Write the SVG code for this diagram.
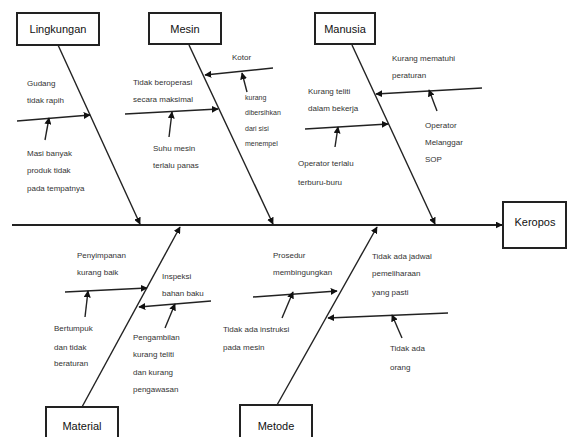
<svg xmlns="http://www.w3.org/2000/svg" width="569" height="437" viewBox="0 0 569 437">
<style>
.box rect{fill:#fff;stroke:#222;stroke-width:2}
.box text{font-family:"Liberation Sans",Arial,sans-serif;font-size:11px;fill:#111;text-anchor:middle}
.lbl{font-family:"Liberation Sans",Arial,sans-serif;font-size:8px;fill:#333}
.sm{font-size:7px}
#connectors line{stroke:#222;stroke-width:1.4;fill:none}
#connectors .spine{stroke-width:1.8}
</style>
<defs>
<marker id="ah" viewBox="0 0 10 10" refX="9" refY="5" markerWidth="7" markerHeight="7" markerUnits="userSpaceOnUse" orient="auto">
<path d="M0,0 L10,5 L0,10 z" fill="#111"/>
</marker>
</defs>
<rect width="569" height="437" fill="#fff"/>
<g id="connectors">
<line class="spine" x1="12" y1="225" x2="502" y2="225" marker-end="url(#ah)"/>
<line x1="58" y1="45" x2="140" y2="224" marker-end="url(#ah)"/>
<line x1="189" y1="45" x2="273" y2="224" marker-end="url(#ah)"/>
<line x1="352" y1="45" x2="435" y2="224" marker-end="url(#ah)"/>
<line x1="82" y1="407" x2="180" y2="227" marker-end="url(#ah)"/>
<line x1="277" y1="405" x2="377" y2="227" marker-end="url(#ah)"/>
<line x1="17" y1="121" x2="90" y2="115" marker-end="url(#ah)"/>
<line x1="45" y1="140" x2="49" y2="118" marker-end="url(#ah)"/>
<line x1="273" y1="68" x2="205" y2="75" marker-end="url(#ah)"/>
<line x1="247" y1="92" x2="242" y2="73" marker-end="url(#ah)"/>
<line x1="125" y1="114" x2="218" y2="109" marker-end="url(#ah)"/>
<line x1="169" y1="137" x2="172" y2="112" marker-end="url(#ah)"/>
<line x1="482" y1="88" x2="376" y2="94" marker-end="url(#ah)"/>
<line x1="437" y1="111" x2="429" y2="90" marker-end="url(#ah)"/>
<line x1="305" y1="129" x2="388" y2="124" marker-end="url(#ah)"/>
<line x1="335" y1="147" x2="338" y2="127" marker-end="url(#ah)"/>
<line x1="65" y1="292" x2="147" y2="288" marker-end="url(#ah)"/>
<line x1="85" y1="317" x2="88" y2="291" marker-end="url(#ah)"/>
<line x1="211" y1="301" x2="139" y2="307" marker-end="url(#ah)"/>
<line x1="165" y1="328" x2="175" y2="304" marker-end="url(#ah)"/>
<line x1="253" y1="297" x2="337" y2="291" marker-end="url(#ah)"/>
<line x1="282" y1="318" x2="293" y2="292" marker-end="url(#ah)"/>
<line x1="448" y1="313" x2="328" y2="318" marker-end="url(#ah)"/>
<line x1="402" y1="338" x2="392" y2="315" marker-end="url(#ah)"/>
</g>
<g id="lingkungan" class="box"><rect x="17" y="13" width="82" height="32"/><text x="58" y="33">Lingkungan</text></g>
<g id="mesin" class="box"><rect x="149" y="13" width="72" height="31"/><text x="185" y="33">Mesin</text></g>
<g id="manusia" class="box"><rect x="315" y="13" width="60" height="31"/><text x="345" y="33">Manusia</text></g>
<g id="keropos" class="box"><rect x="503" y="202" width="63" height="46"/><text x="535" y="226">Keropos</text></g>
<g id="material" class="box"><rect x="46" y="407" width="72" height="36"/><text x="82" y="430">Material</text></g>
<g id="metode" class="box"><rect x="240" y="405" width="72" height="38"/><text x="276" y="430">Metode</text></g>
<g id="labels">
<text class="lbl" x="27" y="86">Gudang</text>
<text class="lbl" x="27" y="103">tidak rapih</text>
<text class="lbl" x="27" y="156">Masi banyak</text>
<text class="lbl" x="27" y="173">produk tidak</text>
<text class="lbl" x="27" y="191">pada tempatnya</text>
<text class="lbl" x="232" y="60">Kotor</text>
<text class="lbl sm" x="245" y="100">kurang</text>
<text class="lbl sm" x="245" y="115">dibersihkan</text>
<text class="lbl sm" x="245" y="131">dari sisi</text>
<text class="lbl sm" x="245" y="146">menempel</text>
<text class="lbl" x="133" y="85">Tidak beroperasi</text>
<text class="lbl" x="133" y="102">secara maksimal</text>
<text class="lbl" x="153" y="151">Suhu mesin</text>
<text class="lbl" x="153" y="168">terlalu panas</text>
<text class="lbl" x="392" y="61">Kurang mematuhi</text>
<text class="lbl" x="392" y="78">peraturan</text>
<text class="lbl" x="425" y="128">Operator</text>
<text class="lbl" x="425" y="145">Melanggar</text>
<text class="lbl" x="425" y="162">SOP</text>
<text class="lbl" x="308" y="94">Kurang teliti</text>
<text class="lbl" x="308" y="111">dalam bekerja</text>
<text class="lbl" x="298" y="166">Operator terlalu</text>
<text class="lbl" x="298" y="185">terburu-buru</text>
<text class="lbl" x="77" y="258">Penyimpanan</text>
<text class="lbl" x="77" y="275">kurang baik</text>
<text class="lbl" x="54" y="331">Bertumpuk</text>
<text class="lbl" x="54" y="350">dan tidak</text>
<text class="lbl" x="54" y="366">beraturan</text>
<text class="lbl" x="162" y="279">Inspeksi</text>
<text class="lbl" x="162" y="296">bahan baku</text>
<text class="lbl" x="133" y="340">Pengambilan</text>
<text class="lbl" x="133" y="357">kurang teliti</text>
<text class="lbl" x="133" y="375">dan kurang</text>
<text class="lbl" x="133" y="392">pengawasan</text>
<text class="lbl" x="273" y="258">Prosedur</text>
<text class="lbl" x="273" y="275">membingungkan</text>
<text class="lbl" x="223" y="332">Tidak ada instruksi</text>
<text class="lbl" x="223" y="350">pada mesin</text>
<text class="lbl" x="372" y="259">Tidak ada jadwal</text>
<text class="lbl" x="372" y="276">pemeliharaan</text>
<text class="lbl" x="372" y="295">yang pasti</text>
<text class="lbl" x="390" y="351">Tidak ada</text>
<text class="lbl" x="390" y="370">orang</text>
</g>
</svg>
